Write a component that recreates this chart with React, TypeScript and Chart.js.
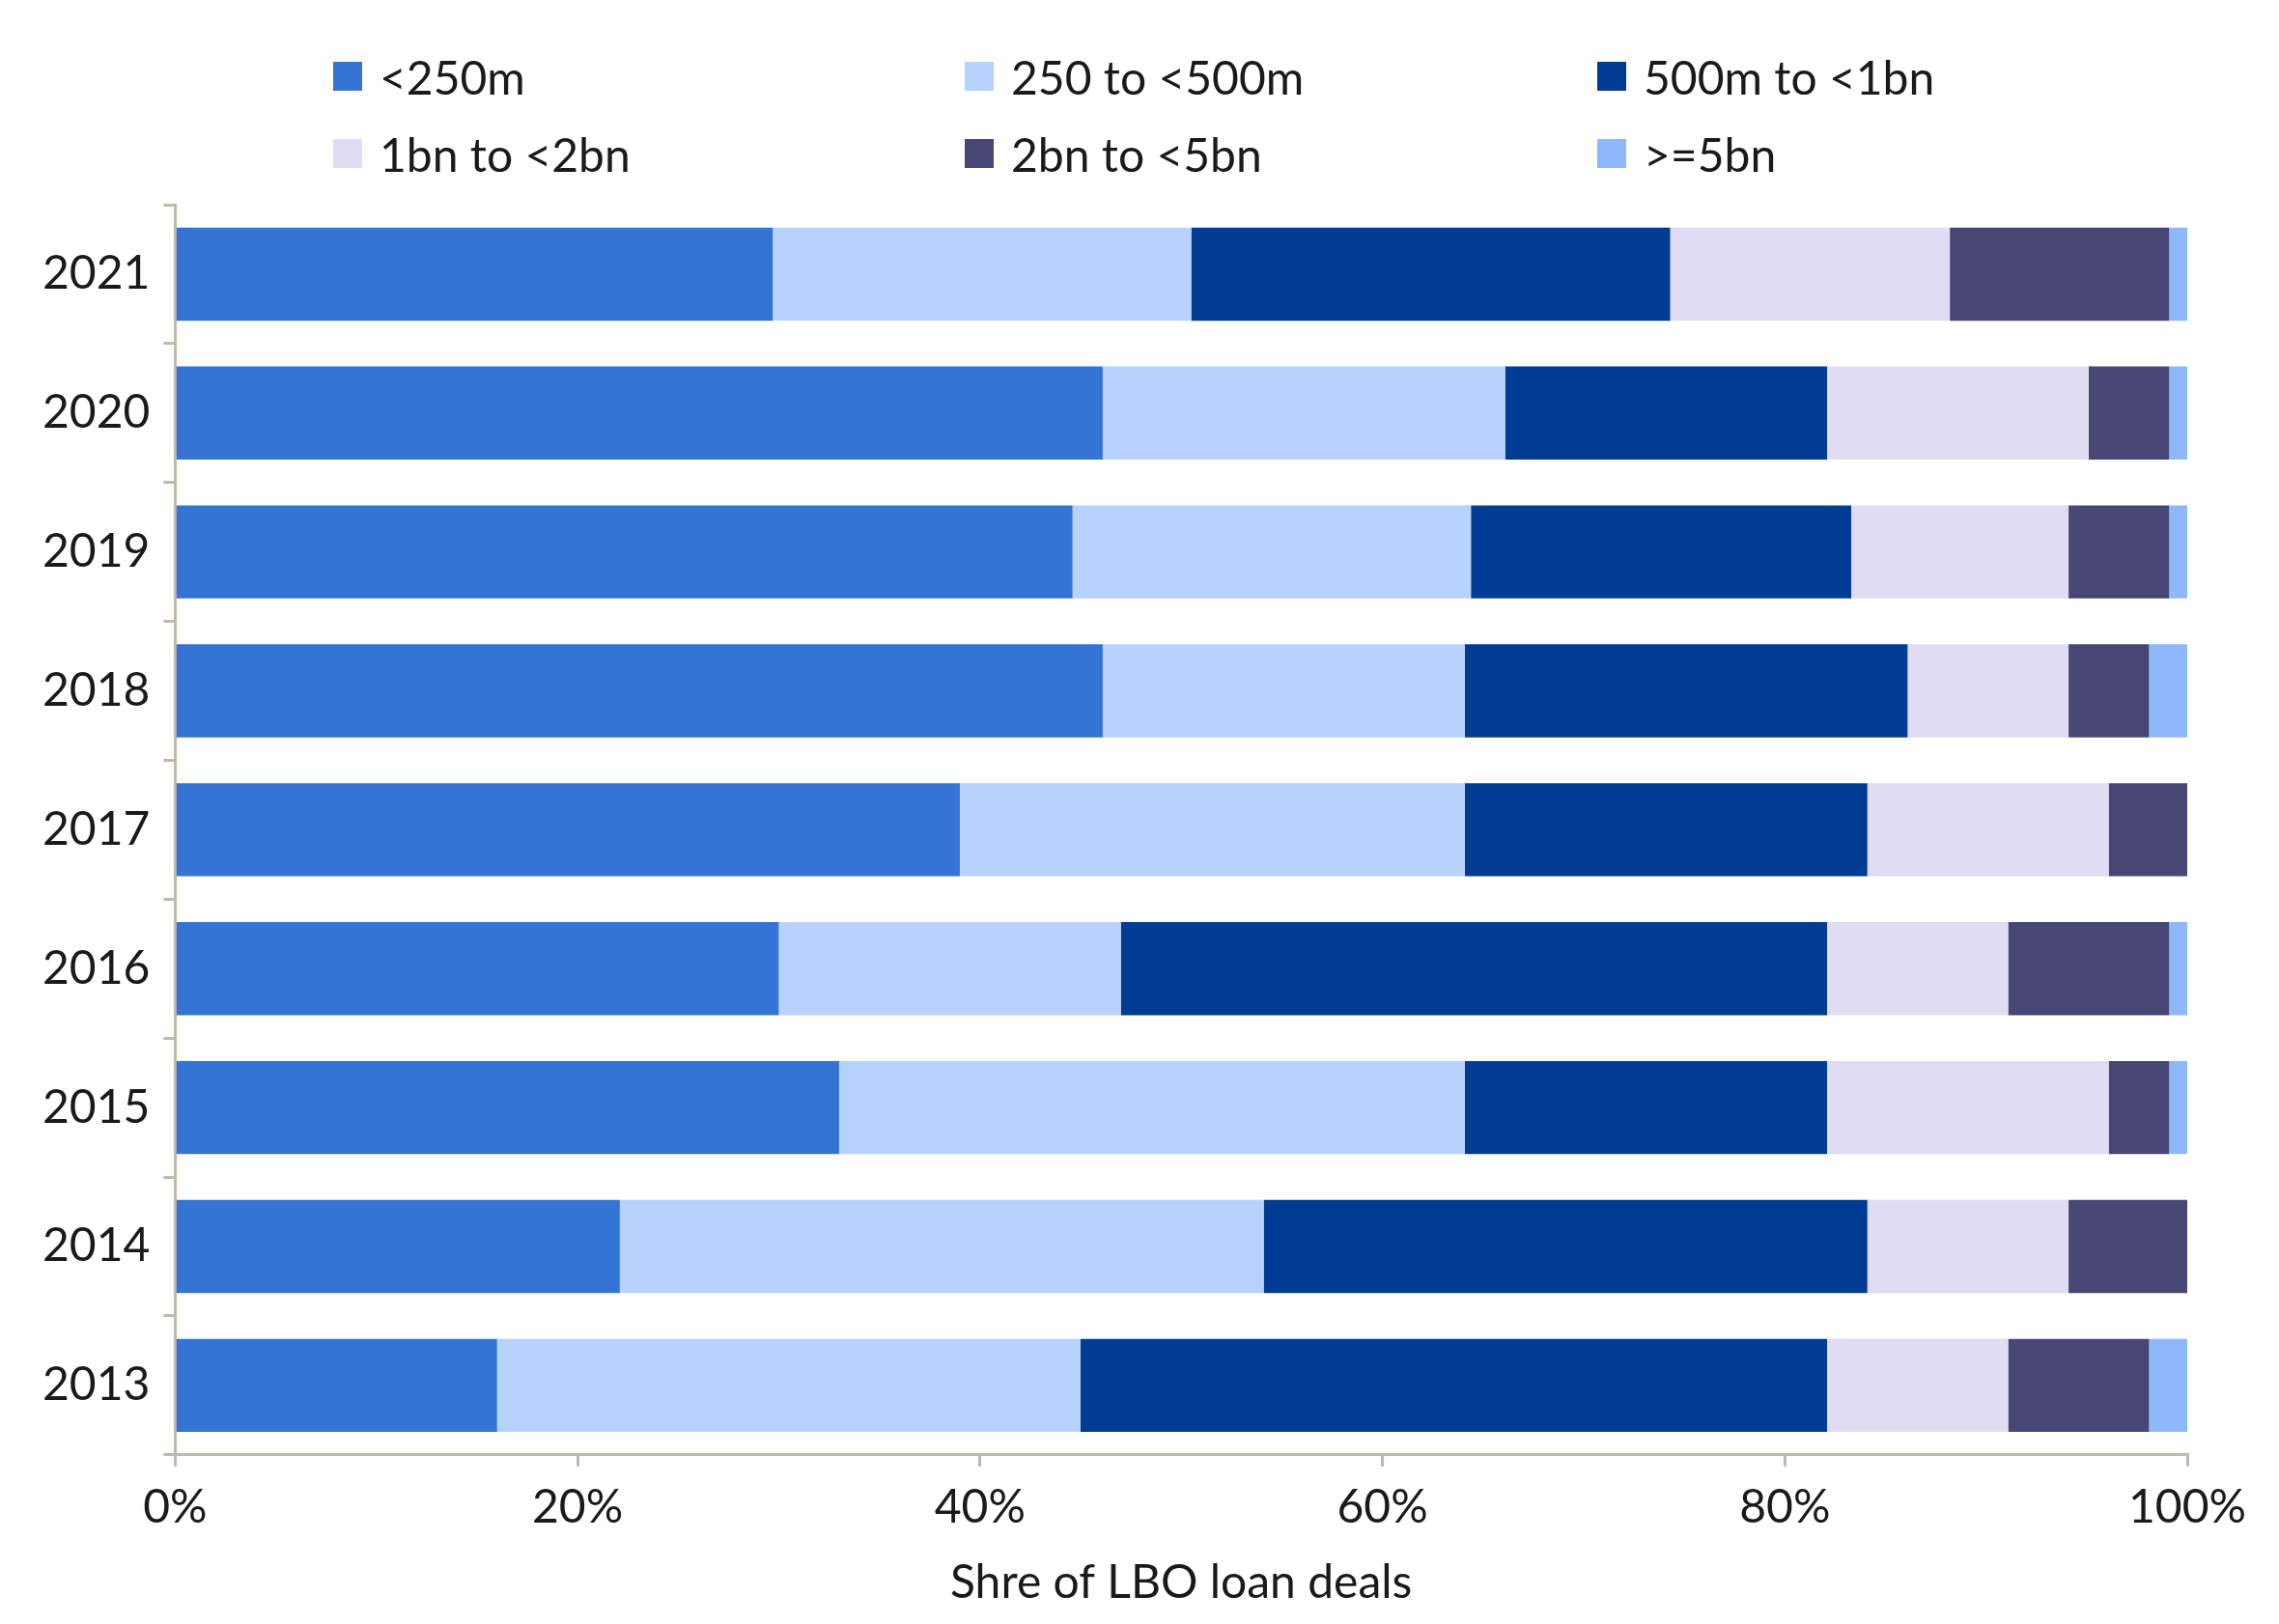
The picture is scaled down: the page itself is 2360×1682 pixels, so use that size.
import React, { useEffect, useRef } from "react";
import { Chart, registerables } from "chart.js";
Chart.register(...registerables);

const years = ["2021", "2020", "2019", "2018", "2017", "2016", "2015", "2014", "2013"];
const seriesNames = ["<250m", "250 to <500m", "500m to <1bn", "1bn to <2bn", "2bn to <5bn", ">=5bn"];
const colors = ["#3474d4", "#b7d3fd", "#003b94", "#e0dcf3", "#474675", "#8fb8fb"];
const lt250 = [29.7, 46.1, 44.6, 46.1, 39, 30, 33, 22.1, 16];
const s250to500 = [20.8, 20, 19.8, 18, 25.1, 17, 31.1, 32, 29];
const s500to1bn = [23.8, 16, 18.9, 22, 20, 35.1, 18, 30, 37.1];
const s1to2bn = [13.9, 13, 10.8, 8, 12, 9, 14, 10, 9];
const s2to5bn = [10.9, 4, 5, 4, 3.9, 8, 3, 5.9, 7];
const ge5bn = [0.9, 0.9, 0.9, 1.9, 0, 0.9, 0.9, 0, 1.9];
const allSeries = [lt250, s250to500, s500to1bn, s1to2bn, s2to5bn, ge5bn];
const xTicks = [0, 20, 40, 60, 80, 100];

const FONT = "Lato, 'Open Sans', sans-serif";
const legendPos = [
  [345, 79], [999, 79], [1654, 79],
  [345, 159], [999, 159], [1654, 159],
];

export default function App() {
  const ref = useRef<HTMLCanvasElement>(null);
  useEffect(() => {
    document.body.style.margin = "0";
    const axisColor = "#c2b8ab";
    const chart = new Chart(ref.current!, {
      type: "bar",
      data: {
        labels: years,
        datasets: allSeries.map((d, i) => ({
          label: seriesNames[i],
          data: d,
          backgroundColor: colors[i],
          borderWidth: 0,
          barPercentage: 0.67,
          categoryPercentage: 1,
        })),
      },
      options: {
        indexAxis: "y",
        animation: false,
        responsive: false,
        layout: { padding: { top: 212, left: 30, right: 95, bottom: 10 } },
        plugins: { legend: { display: false }, tooltip: { enabled: false } },
        scales: {
          x: {
            stacked: true,
            min: 0,
            max: 100,
            afterBuildTicks: (s: any) => { s.ticks = xTicks.map((v) => ({ value: v })); },
            ticks: { callback: (v: any) => v + "%", color: "#1a1a1a", font: { family: FONT, size: 48 }, padding: 14 },
            grid: { drawOnChartArea: false, color: axisColor, tickLength: 12, lineWidth: 3 },
            border: { color: axisColor, width: 3 },
            title: { display: true, text: "Shre of LBO loan deals", color: "#1a1a1a", font: { family: FONT, size: 48 }, padding: { top: 6 } },
          },
          y: {
            stacked: true,
            ticks: { color: "#1a1a1a", font: { family: FONT, size: 48 }, padding: 14 },
            grid: { drawOnChartArea: false, offset: true, color: axisColor, tickLength: 12, lineWidth: 3 },
            border: { color: axisColor, width: 3 },
          },
        },
      },
    });
    return () => chart.destroy();
  }, []);
  return (
    <div style={{ position: "relative", width: 2360, height: 1682, background: "#fff" }}>
      <canvas ref={ref} width={2360} height={1682} style={{ display: "block" }} />
      {seriesNames.map((n, i) => (
        <div key={n} style={{ position: "absolute", left: legendPos[i][0], top: legendPos[i][1] - 30, display: "flex", alignItems: "center", fontFamily: FONT, fontSize: 48, color: "#1a1a1a", height: 60 }}>
          <div style={{ width: 30, height: 30, background: colors[i], marginRight: 18 }} />
          {n}
        </div>
      ))}
    </div>
  );
}
